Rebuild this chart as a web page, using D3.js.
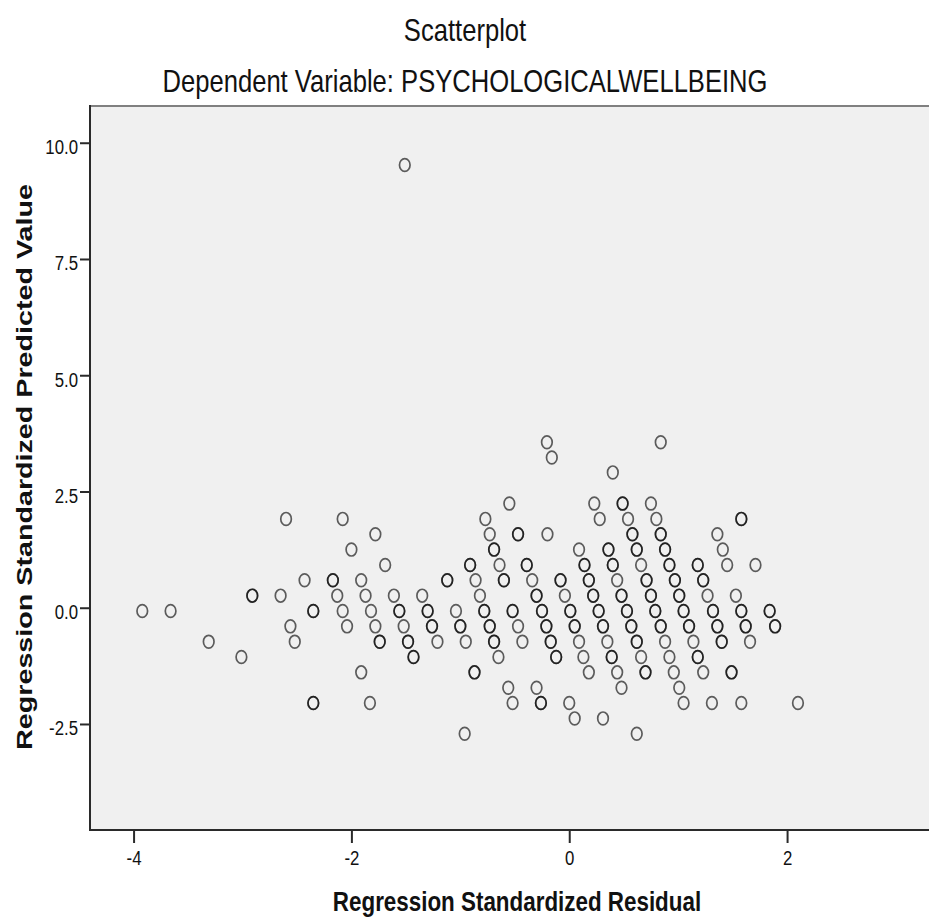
<!DOCTYPE html>
<html>
<head>
<meta charset="utf-8">
<script src="https://cdn.jsdelivr.net/npm/d3@7"></script>
<style>
  body { margin: 0; background: #fff; }
  svg { display: block; font-family: 'Liberation Sans', Arial, sans-serif; }
</style>
</head>
<body>
<script>
'use strict'

const chartTitle = 'Scatterplot'
const chartSubtitle = 'Dependent Variable: PSYCHOLOGICALWELLBEING'
const xTitle = 'Regression Standardized Residual'
const yTitle = 'Regression Standardized Predicted Value'
const xTicks = [-4, -2, 0, 2]
const yTicks = [-2.5, 0, 2.5, 5, 7.5, 10]
const xDomain = [-4.4, 3.45]
const yDomain = [-4.78, 10.79]

// [standardized residual, standardized predicted value, cases at that spot]
const points = [
  [-1.51, 9.52, 1],
  [-3.92, -0.07, 1], [-3.66, -0.07, 1], [-3.31, -0.73, 1], [-3.01, -1.06, 1],
  [-2.91, 0.26, 2], [-2.65, 0.26, 1], [-2.60, 1.91, 1], [-2.43, 0.59, 1],
  [-2.56, -0.40, 1], [-2.52, -0.73, 1], [-2.35, -0.07, 2], [-2.35, -2.05, 2],
  [-2.17, 0.59, 2], [-2.13, 0.26, 1], [-2.08, -0.07, 1], [-2.04, -0.40, 1],
  [-2.08, 1.91, 1], [-2.00, 1.25, 1], [-1.78, 1.58, 1], [-1.69, 0.92, 1],
  [-1.91, 0.59, 1], [-1.87, 0.26, 1], [-1.82, -0.07, 1], [-1.78, -0.40, 1],
  [-1.74, -0.73, 2], [-1.91, -1.39, 1], [-1.83, -2.05, 1],
  [-1.61, 0.26, 1], [-1.56, -0.07, 2], [-1.52, -0.40, 1], [-1.48, -0.73, 2], [-1.43, -1.06, 2],
  [-1.35, 0.26, 1], [-1.30, -0.07, 2], [-1.26, -0.40, 2], [-1.21, -0.73, 1],
  [-1.12, 0.59, 2], [-1.04, -0.07, 1], [-1.00, -0.40, 2], [-0.95, -0.73, 1],
  [-0.91, 0.92, 2], [-0.86, 0.59, 1], [-0.82, 0.26, 1], [-0.78, -0.07, 2],
  [-0.73, -0.40, 2], [-0.69, -0.73, 2], [-0.65, -1.06, 1],
  [-0.87, -1.39, 2], [-0.96, -2.71, 1],
  [-0.77, 1.91, 1], [-0.73, 1.58, 1], [-0.69, 1.25, 2], [-0.64, 0.92, 1], [-0.60, 0.59, 2],
  [-0.55, 2.24, 1], [-0.47, 1.58, 2], [-0.20, 1.58, 1],
  [-0.52, -0.07, 2], [-0.47, -0.40, 1], [-0.43, -0.73, 1],
  [-0.56, -1.72, 1], [-0.52, -2.05, 1], [-0.30, -1.72, 1], [-0.26, -2.05, 2],
  [-0.39, 0.92, 2], [-0.34, 0.59, 1], [-0.30, 0.26, 2], [-0.25, -0.07, 2],
  [-0.21, -0.40, 2], [-0.17, -0.73, 2], [-0.12, -1.06, 2],
  [-0.205, 3.56, 1], [-0.16, 3.23, 1],
  [-0.08, 0.59, 2], [-0.04, 0.26, 1], [0.01, -0.07, 2], [0.05, -0.40, 2],
  [0.09, -0.73, 1], [0.13, -1.06, 1], [0.18, -1.39, 1],
  [0.00, -2.05, 1], [0.05, -2.38, 1], [0.31, -2.38, 1],
  [0.23, 2.24, 1], [0.28, 1.91, 1], [0.40, 2.91, 1],
  [0.09, 1.25, 1], [0.14, 0.92, 2], [0.18, 0.59, 2], [0.22, 0.26, 2], [0.27, -0.07, 2],
  [0.31, -0.40, 2], [0.35, -0.73, 1], [0.39, -1.06, 2], [0.44, -1.39, 1], [0.48, -1.72, 1],
  [0.36, 1.25, 2], [0.40, 0.92, 2], [0.44, 0.59, 1], [0.48, 0.26, 2], [0.53, -0.07, 2],
  [0.57, -0.40, 2], [0.62, -0.73, 2], [0.66, -1.06, 1], [0.70, -1.39, 2],
  [0.84, 3.56, 1],
  [0.49, 2.24, 2], [0.54, 1.91, 1], [0.58, 1.58, 2], [0.62, 1.25, 2], [0.66, 0.92, 1],
  [0.71, 0.59, 2], [0.75, 0.26, 2], [0.79, -0.07, 2], [0.84, -0.40, 2], [0.88, -0.73, 1],
  [0.92, -1.06, 1], [0.96, -1.39, 1], [1.01, -1.72, 1], [1.05, -2.05, 1],
  [0.75, 2.24, 1], [0.80, 1.91, 1], [0.84, 1.58, 2], [0.88, 1.25, 2], [0.92, 0.92, 2],
  [0.97, 0.59, 2], [1.01, 0.26, 2], [1.05, -0.07, 2], [1.10, -0.40, 2], [1.14, -0.73, 1],
  [1.18, -1.06, 2], [1.23, -1.39, 1], [1.31, -2.05, 1],
  [1.18, 0.92, 2], [1.23, 0.59, 2], [1.27, 0.26, 1], [1.32, -0.07, 2], [1.36, -0.40, 2], [1.40, -0.73, 2],
  [1.49, -1.39, 2], [1.58, -2.05, 1],
  [1.36, 1.58, 1], [1.41, 1.25, 1], [1.45, 0.92, 1], [1.58, 1.91, 2], [1.71, 0.92, 1],
  [1.53, 0.26, 1], [1.58, -0.07, 2], [1.62, -0.40, 2], [1.66, -0.73, 1],
  [1.84, -0.07, 2], [1.89, -0.40, 2], [2.10, -2.05, 1], [0.62, -2.71, 1]
]

;(function () {
  const width = 929
  const height = 917
  const panel = { left: 90, top: 106, right: 945, bottom: 830 }
  const squeeze = 0.8 // the source picture is narrowed horizontally

  const svg = d3.select('body').append('svg')
    .attr('width', width)
    .attr('height', height)

  const scaleX = d3.scaleLinear().domain(xDomain).range([panel.left, panel.right])
  const scaleY = d3.scaleLinear().domain(yDomain).range([panel.bottom, panel.top])

  // SPSS prints a plain hyphen, not the unicode minus d3 uses
  function hyphen (fmt) {
    const f = d3.format(fmt)
    return function (d) { return f(d).replace('\u2212', '-') }
  }

  // panel background and frame
  svg.append('rect')
    .attr('x', panel.left)
    .attr('y', panel.top)
    .attr('width', panel.right - panel.left)
    .attr('height', panel.bottom - panel.top)
    .attr('fill', '#f0f0f0')
  svg.append('line')
    .attr('x1', panel.left).attr('x2', panel.right)
    .attr('y1', panel.top).attr('y2', panel.top)
    .attr('stroke', '#808080').attr('stroke-width', 2)
  svg.append('line')
    .attr('x1', panel.left).attr('x2', panel.right)
    .attr('y1', panel.bottom).attr('y2', panel.bottom)
    .attr('stroke', '#2a2a2a').attr('stroke-width', 2)
  svg.append('line')
    .attr('x1', panel.left).attr('x2', panel.left)
    .attr('y1', panel.top - 1).attr('y2', panel.bottom + 1)
    .attr('stroke', '#2a2a2a').attr('stroke-width', 2)

  const axisX = d3.axisBottom(scaleX)
    .tickValues(xTicks)
    .tickSize(13)
    .tickFormat(hyphen('d'))
  const axisY = d3.axisLeft(scaleY)
    .tickValues(yTicks)
    .tickSize(10)
    .tickPadding(2)
    .tickFormat(hyphen('.1f'))

  const gx = svg.append('g')
    .attr('class', 'axis x')
    .attr('transform', 'translate(0,' + panel.bottom + ')')
    .call(axisX)
  gx.select('.domain').remove()
  gx.selectAll('.tick line').attr('stroke', '#2a2a2a').attr('stroke-width', 2)
  gx.selectAll('.tick text')
    .attr('y', 20)
    .attr('font-size', 21)
    .attr('fill', '#111')
    .attr('transform', 'scale(' + squeeze + ',1)')

  const gy = svg.append('g')
    .attr('class', 'axis y')
    .attr('transform', 'translate(' + panel.left + ',0)')
    .call(axisY)
  gy.select('.domain').remove()
  gy.selectAll('.tick line').attr('stroke', '#2a2a2a').attr('stroke-width', 2)
  gy.selectAll('.tick text')
    .attr('x', -12 / squeeze)
    .attr('dy', '0.52em')
    .attr('font-size', 21)
    .attr('fill', '#111')
    .attr('transform', 'scale(' + squeeze + ',1)')

  // one ring per case, so repeated cases print darker
  const cases = []
  points.forEach(function (p) {
    for (let i = 0; i < p[2]; ++i) cases.push(p)
  })
  svg.append('g')
    .attr('class', 'points')
    .selectAll('ellipse')
    .data(cases)
    .enter()
    .append('ellipse')
    .attr('cx', function (d) { return scaleX(d[0]) })
    .attr('cy', function (d) { return scaleY(d[1]) })
    .attr('rx', 5.3)
    .attr('ry', 6.4)
    .attr('fill', 'none')
    .attr('stroke', '#000')
    .attr('stroke-opacity', 0.62)
    .attr('stroke-width', 1.7)

  function label (x, y, text, size, weight, rotate) {
    svg.append('text')
      .attr('transform', 'translate(' + x + ',' + y + ') scale(' + squeeze + ',1)' +
        (rotate ? ' rotate(-90)' : ''))
      .attr('text-anchor', 'middle')
      .attr('font-size', size)
      .attr('font-weight', weight)
      .attr('fill', '#111')
      .text(text)
  }

  label(465, 41, chartTitle, 32, 'normal', false)
  label(465, 92, chartSubtitle, 32, 'normal', false)
  label(517, 911, xTitle, 28, 'bold', false)
  label(32, 467, yTitle, 28.7, 'bold', true)
})()
</script>
</body>
</html>
